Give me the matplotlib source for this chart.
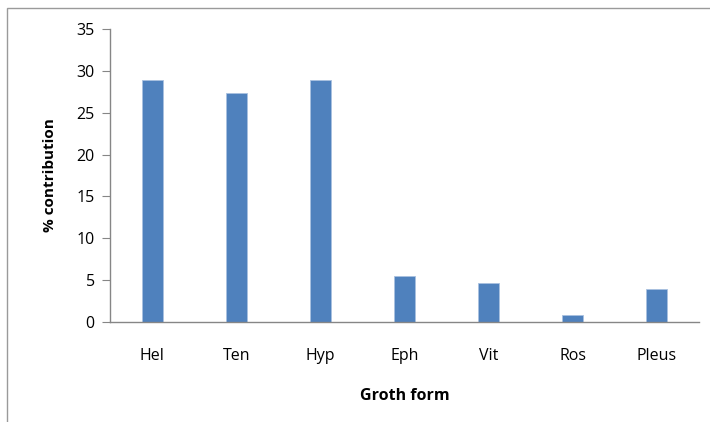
import matplotlib
matplotlib.use("Agg")
import matplotlib.pyplot as plt
from matplotlib.patches import Rectangle

categories = ["Hel", "Ten", "Hyp", "Eph", "Vit", "Ros", "Pleus"]
contribution = [28.9, 27.3, 28.9, 5.5, 4.7, 0.8, 3.9]
y_ticks = [0, 5, 10, 15, 20, 25, 30, 35]

plt.rcParams["font.family"] = ["Open Sans", "DejaVu Sans"]

W, H = 710, 422
fig = plt.figure(figsize=(W / 100, H / 100), dpi=100)

# chart-area frame, running off the right and bottom edges
fig.patches.append(Rectangle((7 / W, -0.1), 1.2, 1 - 8 / H + 0.1,
                             transform=fig.transFigure, fill=False,
                             edgecolor="#9a9a9a", linewidth=1.0))

ax = fig.add_axes([110 / W, 1 - 322 / H, 589 / W, 293 / H])
x = range(len(categories))
ax.bar(x, contribution, width=0.25, color="#4F81BD", edgecolor="#a9c1e0", linewidth=0.6)

ax.set_xlim(-0.5, len(categories) - 0.5)
ax.set_ylim(0, 35)
ax.set_yticks(y_ticks)
ax.set_xticks(list(x))
ax.set_xticklabels(categories)

for s in ["top", "right"]:
    ax.spines[s].set_visible(False)
for s in ["left", "bottom"]:
    ax.spines[s].set_color("#868686")
    ax.spines[s].set_linewidth(1.0)

ax.tick_params(axis="y", length=6, color="#868686", labelsize=11.5, pad=5)
ax.tick_params(axis="x", length=0, labelsize=11.5, pad=19)

ax.set_ylabel("% contribution", fontsize=11, fontweight="bold", labelpad=14)
ax.set_xlabel("Groth form", fontsize=11.5, fontweight="bold", labelpad=17)

fig.savefig("out.png", dpi=100)
